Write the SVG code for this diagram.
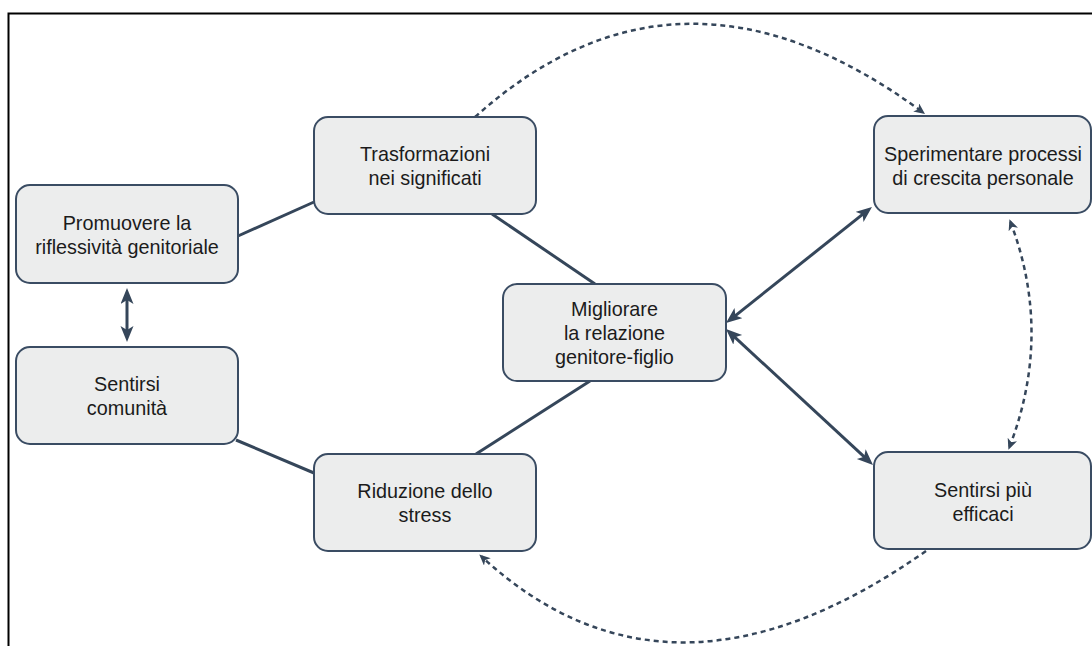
<svg xmlns="http://www.w3.org/2000/svg" width="1092" height="646" viewBox="0 0 1092 646">
  <style>
    .box { fill: #eceded; stroke: #3a4c63; stroke-width: 2; }
    .lbl { font-family: "Liberation Sans", Arial, Helvetica, sans-serif; font-size: 19.8px; fill: #1b1b1b; text-anchor: middle; }
    .link { fill: none; stroke: #35465a; stroke-width: 3; }
    .dash { fill: none; stroke: #35465a; stroke-width: 2.5; stroke-dasharray: 5 4; }
  </style>
  <defs>
    <marker id="arrow" markerUnits="userSpaceOnUse" markerWidth="18" markerHeight="14" refX="10" refY="6.5" orient="auto-start-reverse">
      <path d="M0,0 L16,6.5 L0,13 L4,6.5 z" fill="#35465a"/>
    </marker>
    <marker id="arrowSmall" markerUnits="userSpaceOnUse" markerWidth="13" markerHeight="11" refX="8" refY="5" orient="auto-start-reverse">
      <path d="M0,0 L11,5 L0,10 L3,5 z" fill="#35465a"/>
    </marker>
  </defs>

  <rect width="1092" height="646" fill="#ffffff"/>
  <!-- outer frame, running past the right and bottom edges -->
  <rect x="8.5" y="13.5" width="1100" height="700" fill="none" stroke="#000000" stroke-width="2"/>

  <g id="connectors">
    <line class="link" x1="238" y1="236" x2="314" y2="202"/>
    <line class="link" x1="236" y1="440" x2="314" y2="473"/>
    <line class="link" x1="492" y1="214" x2="595" y2="284"/>
    <line class="link" x1="590" y1="381" x2="476" y2="454"/>
    <line class="link" x1="127" y1="294" x2="127" y2="336" marker-start="url(#arrow)" marker-end="url(#arrow)"/>
    <line class="link" x1="730.7" y1="319.3" x2="867.3" y2="210.7" marker-start="url(#arrow)" marker-end="url(#arrow)"/>
    <line class="link" x1="730.4" y1="333.1" x2="868.6" y2="460.9" marker-start="url(#arrow)" marker-end="url(#arrow)"/>
    <path class="dash" d="M475,117 Q680,-67 922.6,112.2" marker-end="url(#arrowSmall)"/>
    <path class="dash" d="M1010.5,222 Q1053,334 1009.5,447" marker-start="url(#arrowSmall)" marker-end="url(#arrowSmall)"/>
    <path class="dash" d="M926,551 Q670,731 481.5,556.5" marker-end="url(#arrowSmall)"/>
  </g>

  <g id="node-promuovere">
    <rect class="box" x="16" y="185" width="222" height="98" rx="14"/>
    <text class="lbl" x="127" y="230">Promuovere la</text>
    <text class="lbl" x="127" y="254">riflessività genitoriale</text>
  </g>
  <g id="node-comunita">
    <rect class="box" x="16" y="347" width="222" height="97" rx="14"/>
    <text class="lbl" x="127" y="391">Sentirsi</text>
    <text class="lbl" x="127" y="415">comunità</text>
  </g>
  <g id="node-trasformazioni">
    <rect class="box" x="314" y="117" width="222" height="97" rx="14"/>
    <text class="lbl" x="425" y="161">Trasformazioni</text>
    <text class="lbl" x="425" y="185">nei significati</text>
  </g>
  <g id="node-riduzione">
    <rect class="box" x="314" y="454" width="222" height="97" rx="14"/>
    <text class="lbl" x="425" y="498">Riduzione dello</text>
    <text class="lbl" x="425" y="522">stress</text>
  </g>
  <g id="node-migliorare">
    <rect class="box" x="503" y="284" width="223" height="97" rx="14"/>
    <text class="lbl" x="614.5" y="316">Migliorare</text>
    <text class="lbl" x="614.5" y="340">la relazione</text>
    <text class="lbl" x="614.5" y="364">genitore-figlio</text>
  </g>
  <g id="node-sperimentare">
    <rect class="box" x="874" y="116" width="217" height="97" rx="14"/>
    <text class="lbl" x="983" y="161">Sperimentare processi</text>
    <text class="lbl" x="983" y="185">di crescita personale</text>
  </g>
  <g id="node-efficaci">
    <rect class="box" x="874" y="452" width="217" height="97" rx="14"/>
    <text class="lbl" x="983" y="497">Sentirsi più</text>
    <text class="lbl" x="983" y="521">efficaci</text>
  </g>
</svg>
